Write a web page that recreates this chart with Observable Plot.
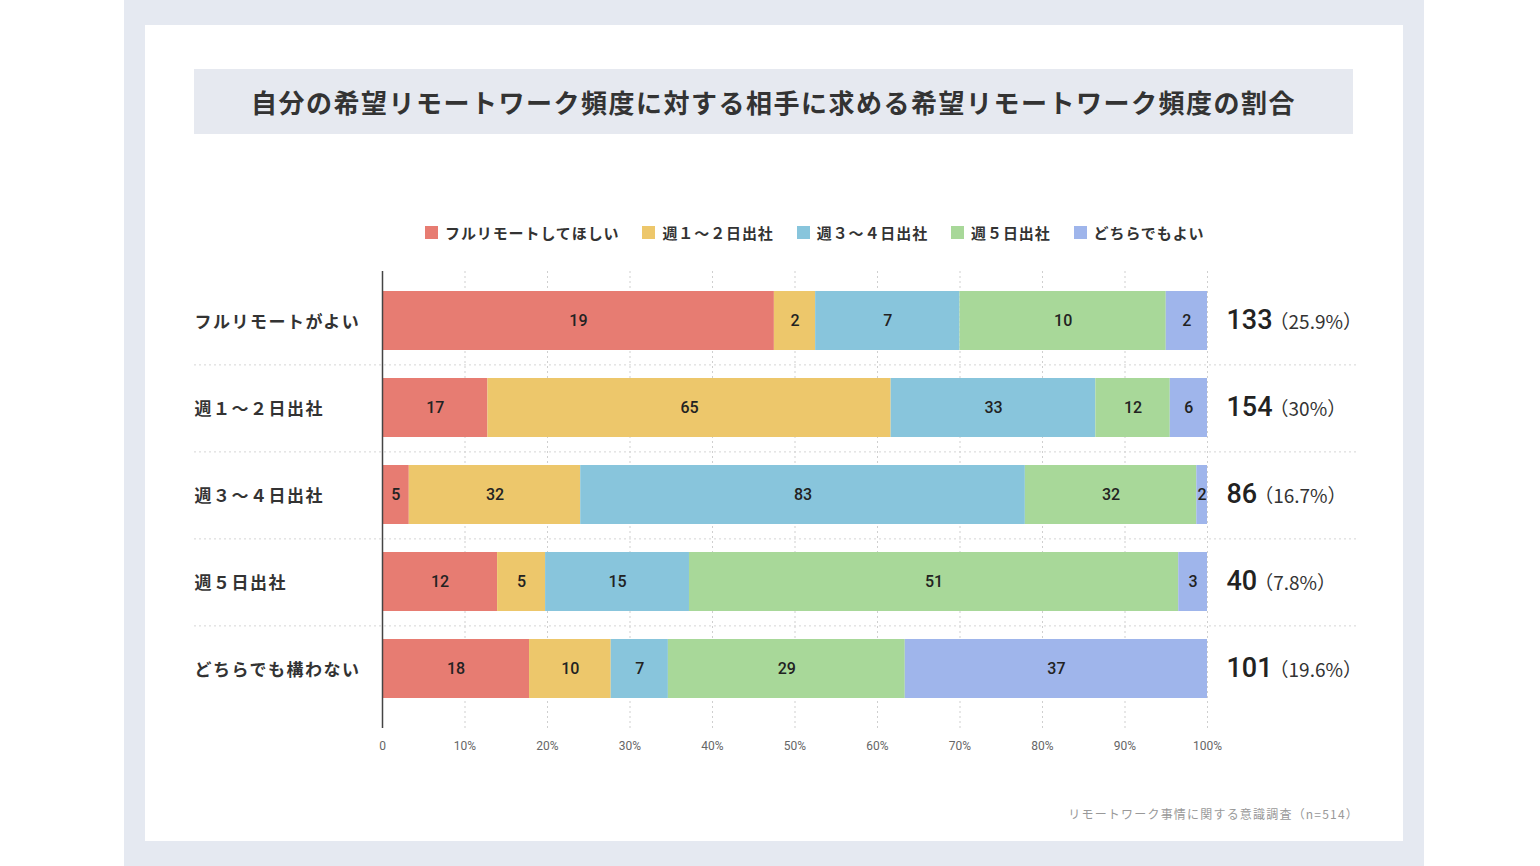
<!DOCTYPE html>
<html><head><meta charset="utf-8">
<script src="https://cdn.jsdelivr.net/npm/d3@7"></script>
<script src="https://cdn.jsdelivr.net/npm/@observablehq/plot@0.6"></script>
<style>
body{margin:0;width:1540px;height:866px;background:#fff;font-family:Roboto,"Noto Sans CJK JP",sans-serif;position:relative;overflow:hidden}
#outer{position:absolute;left:124px;top:0;width:1300px;height:866px;background:#e5e9f1}
#card{position:absolute;left:145px;top:25px;width:1258px;height:816px;background:#fff}
#title{position:absolute;left:194px;top:69px;width:1159px;height:65px;background:#e6e9f0;display:flex;align-items:center;justify-content:center;font-family:"Noto Sans CJK JP",sans-serif;font-size:26px;font-weight:700;color:#333;letter-spacing:1.5px}
#legend{position:absolute;left:425px;top:222px;display:flex;align-items:center;font-family:"Noto Sans CJK JP",sans-serif;font-size:15px;font-weight:700;color:#333;letter-spacing:0.9px;white-space:nowrap}
#legend .item{display:flex;align-items:center;margin-right:23px}
#legend .sw{width:13px;height:13px;margin-right:7px}
#chart{position:absolute;left:145px;top:250px}
#footer{position:absolute;right:181px;top:805px;font-family:"Noto Sans CJK JP",sans-serif;font-size:12px;color:#999;letter-spacing:1.2px}
</style></head>
<body>
<div id="outer"></div>
<div id="card"></div>
<div id="title">自分の希望リモートワーク頻度に対する相手に求める希望リモートワーク頻度の割合</div>
<div id="legend"></div>
<div id="chart"></div>
<div id="footer">リモートワーク事情に関する意識調査（n=514）</div>
<script>
const rows = ["フルリモートがよい", "週１～２日出社", "週３～４日出社", "週５日出社", "どちらでも構わない"];
const cats = ["フルリモートしてほしい", "週１～２日出社", "週３～４日出社", "週５日出社", "どちらでもよい"];
const colors = ["#e77c72", "#edc76b", "#88c5dc", "#a8d899", "#9fb5eb"];
const valsFullRemote = [19, 2, 7, 10, 2];
const valsWeek12 = [17, 65, 33, 12, 6];
const valsWeek34 = [5, 32, 83, 32, 2];
const valsWeek5 = [12, 5, 15, 51, 3];
const valsAny = [18, 10, 7, 29, 37];
const totals = [133, 154, 86, 40, 101];
const shares = ["25.9%", "30%", "16.7%", "7.8%", "19.6%"];
const tickValues = [0, 0.1, 0.2, 0.3, 0.4, 0.5, 0.6, 0.7, 0.8, 0.9, 1];
const tickLabels = ["0", "10%", "20%", "30%", "40%", "50%", "60%", "70%", "80%", "90%", "100%"];

const series = [valsFullRemote, valsWeek12, valsWeek34, valsWeek5, valsAny];
const data = rows.flatMap((r, i) => cats.map((c, j) => ({row: r, cat: c, value: series[i][j]})));
const totalsData = rows.map((r, i) => ({row: r, label: totals[i] + "|（" + shares[i] + "）"}));

// legend
const lg = document.getElementById("legend");
cats.forEach((c, i) => {
  const it = document.createElement("div"); it.className = "item";
  const sw = document.createElement("div"); sw.className = "sw"; sw.style.background = colors[i];
  const tx = document.createElement("span"); tx.textContent = c;
  it.appendChild(sw); it.appendChild(tx); lg.appendChild(it);
});

const W = 1258, H = 520, mT = 11, mB = 42, mL = 237, mR = 196;
const pad = 0.32;
const step = (H - mT - mB) / (rows.length + pad);

const plot = Plot.plot({
  width: W, height: H,
  marginLeft: mL, marginRight: mR, marginTop: mT, marginBottom: mB,
  style: {fontFamily: 'Roboto, "Noto Sans CJK JP", sans-serif', fontSize: "12px", color: "#666", background: "transparent"},
  x: {domain: [0, 1], ticks: tickValues, tickFormat: d => tickLabels[tickValues.indexOf(d)], tickSize: 0, tickPadding: 13, label: null},
  y: {domain: rows, padding: pad, axis: null},
  color: {domain: cats, range: colors},
  marks: [
    Plot.ruleX(tickValues.slice(1), {stroke: "#cfcfcf", strokeDasharray: "2,3", insetTop: 10}),
    Plot.ruleY(rows.slice(0, rows.length - 1), {y: d => d, dy: step / 2, stroke: "#d5d5d5", strokeDasharray: "2,3", insetLeft: -188, insetRight: -150}),
    Plot.barX(data, Plot.stackX({offset: "normalize", x: "value", y: "row", fill: "cat"})),
    Plot.text(data, Plot.stackX({offset: "normalize", x: "value", y: "row", z: "cat", text: "value", fill: "#222", fontSize: 16, fontWeight: 500})),
    Plot.ruleX([0], {stroke: "#444", strokeWidth: 1.5, insetTop: 10}),
    Plot.text(rows, {y: d => d, text: d => d, frameAnchor: "left", textAnchor: "start", dx: -188, dy: 2, fontSize: 17, fontWeight: 700, fill: "#333", fontFamily: '"Noto Sans CJK JP", sans-serif'}),
    Plot.text(totalsData, {y: "row", text: "label", frameAnchor: "right", textAnchor: "start", dx: 19, dy: 2, fill: "#222", fontSize: 19})
  ]
});
document.getElementById("chart").appendChild(plot);

d3.select(plot).selectAll("text").each(function () {
  const t = d3.select(this);
  const s = t.text();
  if (rows.includes(s)) {
    t.attr("letter-spacing", 1.5);
  }
  if (s.includes("|")) {
    const parts = s.split("|");
    t.text(null);
    t.append("tspan").attr("font-size", 27).attr("font-weight", 500).text(parts[0]);
    t.append("tspan").attr("font-size", 19).attr("fill", "#333").attr("dx", -3).attr("font-family", '"Noto Sans CJK JP", sans-serif').text(parts[1]);
  }
});
</script>
</body></html>
